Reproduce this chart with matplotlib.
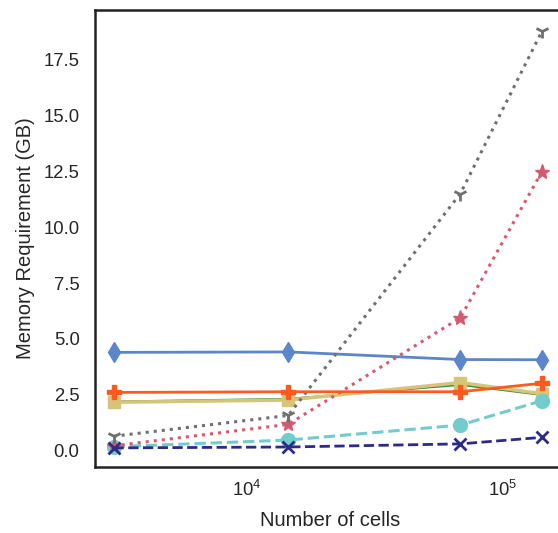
import matplotlib
matplotlib.use("Agg")
import matplotlib.pyplot as plt

plt.rcParams['font.family'] = ['Liberation Sans', 'DejaVu Sans']

n_cells = [3000, 14500, 68579, 143000]

blue_diamond = [4.40, 4.42, 4.08, 4.07]
orange_plus = [2.61, 2.64, 2.64, 3.02]
khaki_square = [2.17, 2.27, 3.05, 2.55]
green_line = [2.20, 2.32, 2.95, 2.50]
cyan_circle = [0.18, 0.48, 1.15, 2.24]
navy_x = [0.13, 0.17, 0.31, 0.60]
pink_star = [0.22, 1.18, 5.95, 12.48]
gray_tri = [0.65, 1.58, 11.50, 18.75]

fig = plt.figure(figsize=(5.58, 5.33), dpi=100)
ax = fig.add_axes([0.170, 0.124, 0.843, 0.857])

ax.plot(n_cells, blue_diamond, color='#5b86cc', lw=2, marker='d', ms=10, zorder=3)
ax.plot(n_cells, green_line, color='#3a8a3a', lw=1.5, zorder=2)
ax.plot(n_cells, khaki_square, color='#d6c479', lw=2.5, marker='s', ms=9, zorder=3)
ax.plot(n_cells, orange_plus, color='#ff5a1f', lw=2, marker='P', ms=10, zorder=4)
ax.plot(n_cells, cyan_circle, color='#72cccc', lw=2.2, ls='--', marker='o', ms=10, zorder=3)
ax.plot(n_cells, navy_x, color='#2d2a8a', lw=2, ls='--', marker='x', ms=9, mew=2, zorder=4)
ax.plot(n_cells, pink_star, color='#d45a6e', lw=2.2, ls=':', marker='*', ms=11, zorder=3)
ax.plot(n_cells, gray_tri, color='#707070', lw=2.2, ls=':', marker='1', ms=10, mew=2, zorder=3)

ax.set_xscale('log')
ax.set_xlim(2535, 176600)
ax.set_ylim(-0.72, 19.7)
ax.set_yticks([0, 2.5, 5, 7.5, 10, 12.5, 15, 17.5])
ax.set_yticklabels(['0.0', '2.5', '5.0', '7.5', '10.0', '12.5', '15.0', '17.5'])
ax.minorticks_off()
ax.tick_params(axis='both', length=0, labelsize=13.3, labelcolor='#262626')
ax.tick_params(axis='y', pad=11)
ax.tick_params(axis='x', pad=9)
for s in ax.spines.values():
    s.set_linewidth(1.8)
    s.set_color('#222222')
ax.set_xlabel('Number of cells', fontsize=14.5, color='#262626', labelpad=8)
ax.set_ylabel('Memory Requirement (GB)', fontsize=14.5, color='#262626', labelpad=6)

fig.savefig('out.png', dpi=100)
